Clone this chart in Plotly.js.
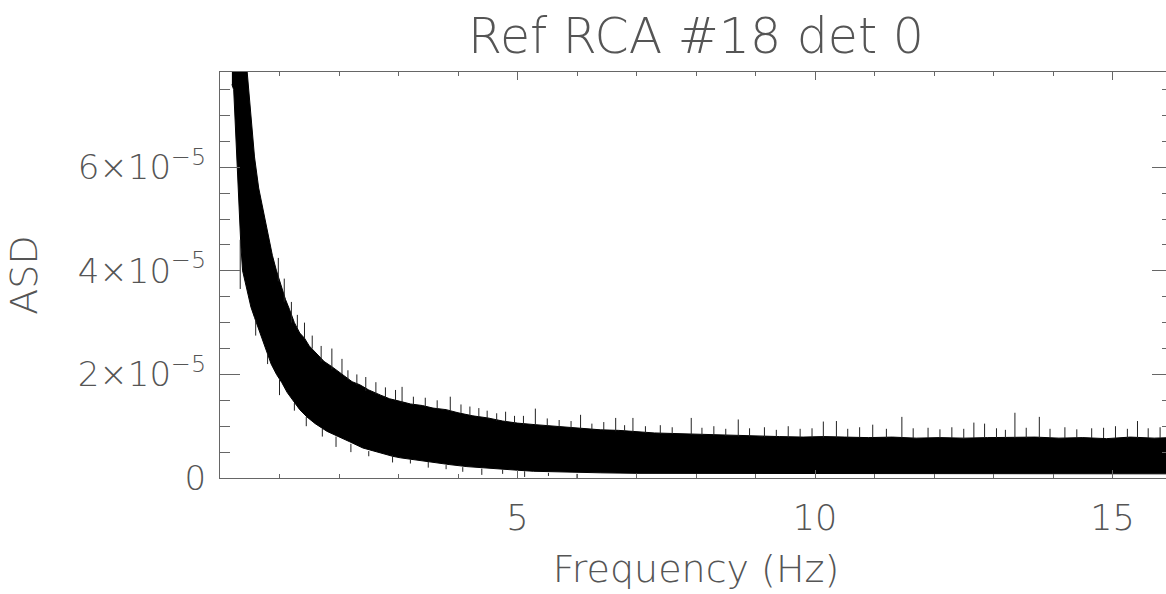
<!DOCTYPE html>
<html>
<head>
<meta charset="utf-8">
<script src="https://cdn.plot.ly/plotly-3.0.1.min.js"></script>
<style>
html, body { margin: 0; padding: 0; overflow: hidden; background: #fff; }
#chart { width: 1175px; height: 594px; }
</style>
</head>
<body>
<div id="chart"></div>
<script>
// Values (ASD in units of 1e-5)
const freqUpper = [0.20, 0.25, 0.30, 0.35, 0.40, 0.46, 0.52, 0.58, 0.65, 0.72, 0.80, 0.88, 0.95, 1.03, 1.10, 1.17, 1.25, 1.34, 1.42, 1.50, 1.63, 1.75, 1.88, 2.00, 2.10, 2.22, 2.35, 2.50, 2.70, 2.85, 3.03, 3.20, 3.40, 3.58, 3.80, 4.00, 4.25, 4.50, 4.75, 5.00, 5.30, 5.60, 5.85, 6.10, 6.40, 6.70, 7.00, 7.30, 7.60, 7.90, 8.25, 8.60, 9.00, 9.40, 9.80, 10.15, 10.50, 10.90, 11.30, 11.70, 12.10, 12.50, 12.90, 13.30, 13.70, 14.10, 14.50, 14.90, 15.30, 15.70, 16.00];
const asdUpper = [9.0, 10.5, 10.0, 9.5, 8.6, 7.8, 6.9, 6.2, 5.6, 5.2, 4.7, 4.3, 4.0, 3.7, 3.45, 3.25, 3.0, 2.8, 2.7, 2.55, 2.4, 2.25, 2.15, 2.05, 1.95, 1.86, 1.8, 1.7, 1.6, 1.53, 1.48, 1.43, 1.4, 1.35, 1.32, 1.26, 1.2, 1.16, 1.1, 1.06, 1.03, 1.0, 0.98, 0.96, 0.93, 0.92, 0.89, 0.87, 0.86, 0.85, 0.83, 0.82, 0.8, 0.8, 0.79, 0.8, 0.79, 0.78, 0.79, 0.77, 0.78, 0.77, 0.78, 0.78, 0.79, 0.77, 0.78, 0.76, 0.79, 0.77, 0.78];

const freqLower = [0.20, 0.23, 0.26, 0.29, 0.32, 0.35, 0.38, 0.42, 0.47, 0.52, 0.58, 0.65, 0.72, 0.78, 0.86, 0.95, 1.04, 1.13, 1.22, 1.34, 1.46, 1.60, 1.80, 2.00, 2.18, 2.40, 2.65, 2.90, 3.03, 3.30, 3.58, 3.85, 4.15, 4.45, 4.71, 5.00, 5.27, 5.60, 6.00, 6.40, 7.00, 8.00, 9.00, 10.00, 11.00, 12.00, 13.00, 14.00, 15.00, 16.00];
const asdLower = [7.6, 7.5, 6.6, 6.1, 5.3, 4.5, 4.0, 3.75, 3.55, 3.3, 3.1, 2.85, 2.65, 2.45, 2.2, 2.0, 1.84, 1.65, 1.5, 1.32, 1.18, 1.05, 0.9, 0.8, 0.7, 0.58, 0.5, 0.42, 0.39, 0.34, 0.30, 0.26, 0.22, 0.19, 0.17, 0.15, 0.13, 0.12, 0.11, 0.1, 0.09, 0.08, 0.08, 0.08, 0.08, 0.08, 0.08, 0.08, 0.08, 0.08];

// Individual spikes sticking out of the dense band: frequency, lower end, upper end
const spikeFreq = [0.34, 0.60, 0.80, 0.98, 1.00, 1.08, 1.20, 1.25, 1.30, 1.42, 1.45, 1.55, 1.70, 1.72, 1.88, 1.95, 2.05, 2.15, 2.20, 2.30, 2.45, 2.50, 2.62, 2.78, 2.90, 2.95, 3.06, 3.20, 3.25, 3.45, 3.50, 3.65, 3.80, 3.87, 4.05, 4.08, 4.20, 4.35, 4.40, 4.49, 4.65, 4.75, 4.80, 4.95, 5.10, 5.12, 5.30, 5.50, 5.52, 5.70, 5.90, 6.00, 6.06, 6.25, 6.45, 6.65, 6.80, 6.94, 7.15, 7.40, 7.60, 7.92, 8.10, 8.30, 8.50, 8.71, 8.90, 9.15, 9.35, 9.55, 9.75, 9.95, 10.14, 10.36, 10.55, 10.75, 10.97, 11.20, 11.46, 11.65, 11.90, 12.10, 12.30, 12.50, 12.67, 12.85, 13.05, 13.20, 13.36, 13.55, 13.77, 13.95, 14.20, 14.40, 14.65, 14.85, 15.05, 15.25, 15.42, 15.60, 15.80];
const spikeFrom = [3.65, 2.75, 2.2, 3.8, 1.6, 3.4, 3.0, 1.3, 2.9, 2.7, 1.0, 2.5, 2.25, 0.8, 2.1, 0.6, 2.0, 1.9, 0.5, 1.8, 1.68, 0.42, 1.62, 1.55, 0.3, 1.5, 1.45, 0.28, 1.42, 1.38, 0.2, 1.33, 0.17, 1.3, 1.25, 0.12, 1.2, 1.18, 0.06, 1.15, 1.1, 0.08, 1.08, 1.05, 1.03, 0.02, 1.02, 1.0, 0.04, 0.98, 0.96, 0.0, 0.95, 0.93, 0.92, 0.9, 0.9, 0.88, 0.87, 0.86, 0.85, 0.84, 0.83, 0.82, 0.81, 0.8, 0.8, 0.79, 0.79, 0.78, 0.78, 0.78, 0.78, 0.78, 0.78, 0.78, 0.78, 0.77, 0.77, 0.77, 0.77, 0.77, 0.77, 0.77, 0.77, 0.77, 0.77, 0.77, 0.77, 0.77, 0.77, 0.77, 0.77, 0.77, 0.77, 0.77, 0.77, 0.77, 0.77, 0.77, 0.77];
const spikeTo = [4.6, 3.05, 2.4, 4.25, 1.9, 3.85, 3.4, 1.45, 3.15, 3.0, 1.18, 2.75, 2.55, 0.95, 2.5, 0.8, 2.3, 2.08, 0.66, 2.0, 1.95, 0.52, 1.85, 1.75, 0.44, 1.7, 1.76, 0.36, 1.57, 1.55, 0.31, 1.5, 0.25, 1.57, 1.42, 0.21, 1.38, 1.35, 0.18, 1.3, 1.25, 0.16, 1.28, 1.2, 1.2, 0.13, 1.34, 1.15, 0.1, 1.12, 1.1, 0.08, 1.22, 1.05, 1.08, 1.16, 1.02, 1.16, 1.0, 1.02, 0.98, 1.16, 0.97, 1.0, 0.95, 1.13, 0.96, 0.98, 0.93, 1.0, 0.95, 0.96, 1.09, 1.10, 0.95, 0.98, 1.03, 0.95, 1.18, 0.96, 0.97, 0.94, 0.98, 0.95, 1.07, 1.05, 0.96, 0.93, 1.26, 0.97, 1.18, 0.95, 0.98, 0.94, 0.96, 0.97, 1.0, 0.95, 1.10, 0.96, 0.98];

const yTickVals = [0, 2, 4, 6];
const yTickText = ['0', '2×10<sup>−5</sup>', '4×10<sup>−5</sup>', '6×10<sup>−5</sup>'];
const xTickVals = [5, 10, 15];
const xTickText = ['5', '10', '15'];

const SCALE = 1e-5;
const FONT = '"DejaVu Sans", sans-serif';
const WEIGHT = 200;
const TXT = '#555';
const AX = '#666';

const bandX = freqUpper.concat(freqLower.slice().reverse());
const bandY = asdUpper.concat(asdLower.slice().reverse()).map(v => v * SCALE);

const sx = [], sy = [];
spikeFreq.forEach((f, i) => { sx.push(f, f, null); sy.push(spikeFrom[i] * SCALE, spikeTo[i] * SCALE, null); });

const traces = [
  { x: bandX, y: bandY, type: 'scatter', mode: 'lines', fill: 'toself', fillcolor: '#000',
    line: { color: '#000', width: 1 }, hoverinfo: 'skip' },
  { x: sx, y: sy, type: 'scatter', mode: 'lines', line: { color: '#222', width: 1 }, hoverinfo: 'skip' }
];

const f = (size) => ({ family: FONT, size: size, color: TXT, weight: WEIGHT });

const layout = {
  width: 1175, height: 594,
  margin: { l: 220, r: 3, t: 72, b: 116 },
  paper_bgcolor: '#fff', plot_bgcolor: '#fff',
  showlegend: false,
  font: f(34),
  title: { text: 'Ref RCA #18 det 0', font: f(49),
           xref: 'paper', x: 0.5, xanchor: 'center', yref: 'container', y: 0.94, yanchor: 'middle' },
  xaxis: {
    range: [0, 16], showgrid: false, zeroline: false,
    showline: true, linecolor: AX, linewidth: 1, mirror: 'ticks',
    ticks: 'inside', ticklen: 8, tickcolor: AX, tickwidth: 1,
    tickmode: 'array', tickvals: xTickVals, ticktext: xTickText,
    tickfont: f(35), ticklabelstandoff: 9,
    minor: { tickmode: 'linear', tick0: 0, dtick: 1, ticks: 'inside', ticklen: 4, tickcolor: AX, tickwidth: 1, showgrid: false },
    title: { text: 'Frequency (Hz)', font: f(38), standoff: 18 }
  },
  yaxis: {
    range: [0, 7.84e-5], showgrid: false, zeroline: false,
    showline: true, linecolor: AX, linewidth: 1, mirror: 'ticks',
    ticks: 'inside', ticklen: 20, tickcolor: AX, tickwidth: 1,
    tickmode: 'array', tickvals: yTickVals.map(v => v * SCALE), ticktext: yTickText,
    tickfont: f(34), ticklabelstandoff: 6,
    minor: { tickmode: 'linear', tick0: 0, dtick: 0.5e-5, ticks: 'inside', ticklen: 10, tickcolor: AX, tickwidth: 1, showgrid: false },
    title: { text: 'ASD', font: f(38), standoff: 28 }
  }
};

Plotly.newPlot('chart', traces, layout, { displayModeBar: false, staticPlot: true });
</script>
</body>
</html>
